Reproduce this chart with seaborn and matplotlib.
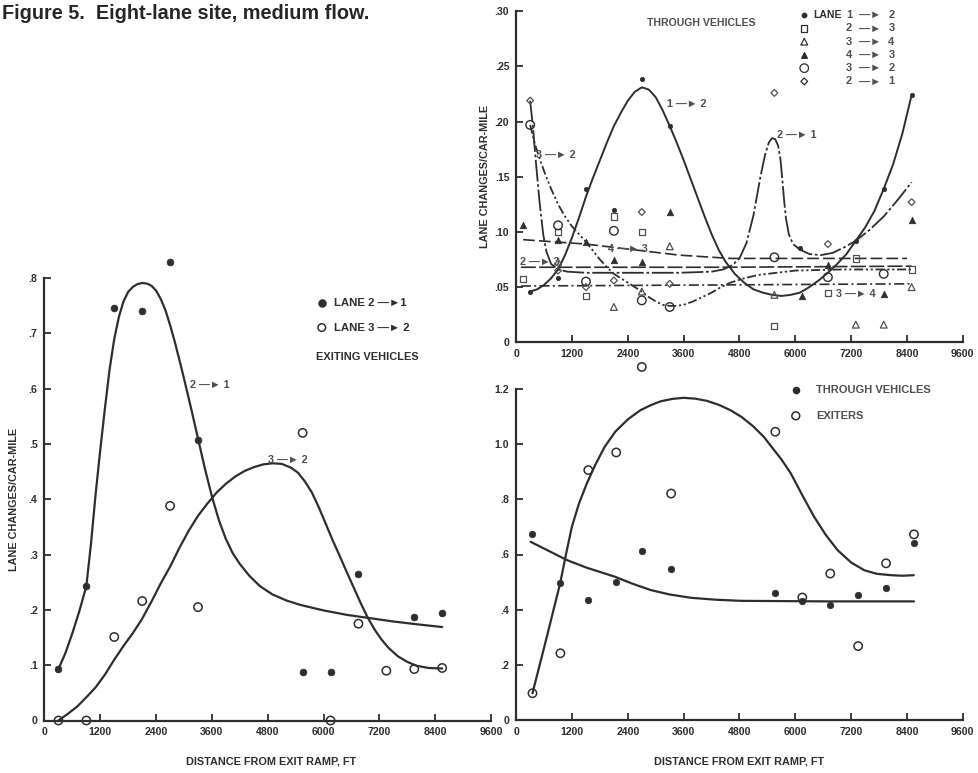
import matplotlib
matplotlib.use("Agg")
import matplotlib.pyplot as plt
import seaborn as sns

# ---------------- data ----------------
# Left panel: exiting vehicles
EX_X_21 = [300, 900, 1500, 2100, 2700, 3300, 5550, 6150, 6750, 7950, 8550]
EX_Y_21 = [0.093, 0.243, 0.746, 0.741, 0.829, 0.508, 0.087, 0.087, 0.265, 0.187, 0.195]
EX_X_32 = [300, 900, 1500, 2100, 2700, 3300, 5550, 6150, 6750, 7350, 7950, 8550]
EX_Y_32 = [0.0, 0.0, 0.151, 0.216, 0.388, 0.205, 0.520, 0.0, 0.175, 0.090, 0.093, 0.095]
EX_FIT21_X = [300, 450, 600, 750, 900, 1000, 1100, 1200, 1300, 1400, 1500, 1600, 1700, 1800,
              1900, 2000, 2100, 2200, 2300, 2400, 2500, 2600, 2700, 2800, 2900, 3000, 3150, 3300,
              3450, 3600, 3750, 3900, 4050, 4200, 4400, 4630, 4900, 5200, 5500, 6000, 6500, 7000,
              7500, 8000, 8550]
EX_FIT21_Y = [0.093, 0.122, 0.158, 0.198, 0.243, 0.320, 0.410, 0.490, 0.565, 0.635, 0.690, 0.730,
              0.758, 0.775, 0.784, 0.789, 0.791, 0.790, 0.786, 0.777, 0.762, 0.742, 0.715, 0.685,
              0.652, 0.618, 0.565, 0.510, 0.455, 0.405, 0.362, 0.328, 0.302, 0.283, 0.262, 0.243,
              0.228, 0.217, 0.209, 0.199, 0.191, 0.185, 0.179, 0.174, 0.169]
EX_FIT32_X = [300, 500, 700, 900, 1100, 1300, 1500, 1700, 1900, 2100, 2300, 2500, 2700, 2900,
              3100, 3300, 3500, 3700, 3900, 4100, 4300, 4500, 4700, 4900, 5100, 5300, 5450, 5600,
              5750, 5900, 6050, 6200, 6350, 6500, 6650, 6800, 6950, 7100, 7250, 7400, 7600, 7800,
              8000, 8250, 8550]
EX_FIT32_Y = [0.0, 0.012, 0.025, 0.042, 0.060, 0.083, 0.110, 0.135, 0.158, 0.184, 0.215, 0.248,
              0.278, 0.312, 0.343, 0.370, 0.392, 0.412, 0.428, 0.441, 0.451, 0.458, 0.463, 0.465,
              0.464, 0.457, 0.448, 0.432, 0.412, 0.385, 0.355, 0.325, 0.297, 0.268, 0.240, 0.212,
              0.186, 0.164, 0.146, 0.131, 0.116, 0.106, 0.099, 0.095, 0.094]

# Top-right panel: through vehicles, by lane change
TR_X_12 = [300, 900, 1500, 2100, 2700, 3300, 6100, 7300, 7900, 8500]
TR_Y_12 = [0.046, 0.058, 0.139, 0.120, 0.239, 0.196, 0.085, 0.092, 0.139, 0.224]
TR_X_23 = [150, 900, 1500, 2100, 2700, 5550, 6700, 7300, 8500]
TR_Y_23 = [0.057, 0.100, 0.042, 0.114, 0.100, 0.015, 0.045, 0.076, 0.066]
TR_X_34 = [900, 2100, 2700, 3300, 5550, 7300, 7900, 8500]
TR_Y_34 = [0.073, 0.032, 0.046, 0.087, 0.043, 0.016, 0.016, 0.050]
TR_X_43 = [150, 900, 1500, 2100, 2700, 3300, 6150, 6700, 7900, 8500]
TR_Y_43 = [0.106, 0.093, 0.091, 0.0745, 0.073, 0.118, 0.042, 0.070, 0.044, 0.111]
TR_X_32 = [300, 900, 1500, 2100, 2700, 3300, 5550, 6700, 7900]
TR_Y_32 = [0.197, 0.106, 0.055, 0.101, 0.038, 0.032, 0.077, 0.059, 0.062]
TR_X_21 = [300, 900, 1500, 2100, 2700, 3300, 5550, 6700, 8500]
TR_Y_21 = [0.219, 0.065, 0.050, 0.056, 0.118, 0.053, 0.226, 0.089, 0.127]

TR_FIT12_X = [300, 450, 600, 750, 900, 1050, 1200, 1350, 1500, 1650, 1800, 1950, 2100, 2250,
              2400, 2550, 2700, 2850, 3000, 3150, 3300, 3450, 3600, 3750, 3900, 4050, 4200, 4350,
              4500, 4700, 4900, 5100, 5300, 5500, 5700, 5900, 6100, 6300, 6500, 6700, 6900, 7100,
              7300, 7500, 7700, 7900, 8100, 8300, 8500]
TR_FIT12_Y = [0.046, 0.048, 0.052, 0.058, 0.066, 0.079, 0.095, 0.113, 0.132, 0.149, 0.165, 0.181,
              0.196, 0.208, 0.219, 0.227, 0.231, 0.229, 0.222, 0.210, 0.196, 0.181, 0.165, 0.148,
              0.131, 0.114, 0.098, 0.084, 0.073, 0.062, 0.054, 0.048, 0.045, 0.043, 0.042, 0.043,
              0.045, 0.050, 0.056, 0.063, 0.071, 0.080, 0.092, 0.104, 0.119, 0.139, 0.161, 0.189,
              0.224]
TR_FIT21_X = [300, 360, 420, 500, 580, 650, 750, 900, 1100, 1500, 2500, 3500, 4200, 4450, 4650,
              4800, 4950, 5100, 5250, 5350, 5430, 5500, 5570, 5630, 5680, 5720, 5760, 5800, 5860,
              5950, 6100, 6300, 6550, 6800, 7050, 7300, 7600, 7900, 8200, 8500]
TR_FIT21_Y = [0.219, 0.195, 0.165, 0.128, 0.098, 0.082, 0.071, 0.066, 0.064, 0.063, 0.063, 0.063,
              0.064, 0.066, 0.070, 0.076, 0.090, 0.115, 0.150, 0.170, 0.181, 0.185, 0.184, 0.178,
              0.166, 0.148, 0.128, 0.112, 0.098, 0.089, 0.084, 0.080, 0.079, 0.081, 0.086, 0.092,
              0.102, 0.114, 0.129, 0.145]
TR_FIT32_X = [300, 400, 500, 600, 750, 900, 1050, 1200, 1350, 1500, 1650, 1800, 1950, 2100, 2250,
              2400, 2550, 2700, 2850, 3000, 3150, 3300, 3450, 3600, 3800, 4000, 4200, 4400, 4600,
              4900, 5200, 5600, 6000, 7000, 8000, 8500]
TR_FIT32_Y = [0.197, 0.180, 0.167, 0.155, 0.139, 0.125, 0.114, 0.105, 0.098, 0.091, 0.083, 0.075,
              0.068, 0.062, 0.058, 0.054, 0.050, 0.046, 0.041, 0.037, 0.034, 0.033, 0.033, 0.034,
              0.037, 0.041, 0.045, 0.050, 0.054, 0.058, 0.061, 0.063, 0.065, 0.066, 0.066, 0.066]
TR_FIT43_X = [150, 1500, 2500, 3500, 4600, 6000, 8400]
TR_FIT43_Y = [0.093, 0.089, 0.084, 0.079, 0.076, 0.076, 0.076]
TR_FIT23_X = [100, 4500, 8500]
TR_FIT23_Y = [0.068, 0.068, 0.069]
TR_FIT34_X = [100, 4500, 8500]
TR_FIT34_Y = [0.051, 0.052, 0.053]

# Bottom-right panel: through vehicles vs exiters
BR_X = [350, 950, 1550, 2150, 2700, 3330, 5570, 6150, 6750, 7350, 7950, 8550]
BR_Y_THRU = [0.676, 0.495, 0.435, 0.499, 0.613, 0.546, 0.459, 0.432, 0.417, 0.453, 0.477, 0.640]
BR_Y_EXIT = [0.097, 0.242, 0.906, 0.970, 1.280, 0.821, 1.045, 0.444, 0.531, 0.268, 0.568, 0.673]
BR_FIT_EXIT_X = [350, 650, 944, 1070, 1196, 1350, 1519, 1700, 1900, 2129, 2400, 2668, 2900, 3100,
                 3350, 3601, 3850, 4100, 4350, 4608, 4850, 5100, 5325, 5500, 5700, 5900, 6150,
                 6403, 6650, 6907, 7200, 7481, 7750, 8056, 8300, 8545]
BR_FIT_EXIT_Y = [0.097, 0.296, 0.495, 0.600, 0.700, 0.785, 0.858, 0.925, 0.990, 1.045, 1.090,
                 1.123, 1.142, 1.155, 1.164, 1.168, 1.165, 1.157, 1.143, 1.123, 1.098, 1.064,
                 1.026, 0.988, 0.945, 0.895, 0.815, 0.737, 0.672, 0.616, 0.571, 0.543, 0.530,
                 0.525, 0.523, 0.525]
BR_FIT_THRU_X = [310, 700, 1088, 1500, 2129, 2500, 2894, 3300, 3759, 4300, 4836, 6700, 8550]
BR_FIT_THRU_Y = [0.646, 0.613, 0.580, 0.553, 0.519, 0.494, 0.471, 0.455, 0.443, 0.436, 0.432,
                 0.430, 0.430]

X_TICKS = [0, 1200, 2400, 3600, 4800, 6000, 7200, 8400, 9600]
L_YTICKS = [0, 0.1, 0.2, 0.3, 0.4, 0.5, 0.6, 0.7, 0.8]
L_YLABELS = ["0", ".1", ".2", ".3", ".4", ".5", ".6", ".7", ".8"]
T_YTICKS = [0, 0.05, 0.10, 0.15, 0.20, 0.25, 0.30]
T_YLABELS = ["0", ".05", ".10", ".15", ".20", ".25", ".30"]
B_YTICKS = [0, 0.2, 0.4, 0.6, 0.8, 1.0, 1.2]
B_YLABELS = ["0", ".2", ".4", ".6", ".8", "1.0", "1.2"]

TITLE = "Figure 5.  Eight-lane site, medium flow."
YLAB = "LANE CHANGES/CAR-MILE"
XLAB = "DISTANCE FROM EXIT RAMP, FT"
ARROW = "\u2014\u25BA"

# ---------------- style ----------------
sns.set_style("ticks")
plt.rcParams["font.family"] = ["Liberation Sans", "DejaVu Sans"]
INK = "#2e2e2e"
GREY = "#505050"

W, H = 979, 773
fig = plt.figure(figsize=(W / 100, H / 100), dpi=100)
fig.patch.set_facecolor("white")


def px_axes(left, top, right, bottom):
    return fig.add_axes([left / W, 1 - bottom / H, (right - left) / W, (bottom - top) / H])


def style(ax, ymax, yticks, ylabels):
    ax.set_xlim(0, 9600)
    ax.set_ylim(0, ymax)
    sns.despine(ax=ax)
    for s in ("left", "bottom"):
        ax.spines[s].set_linewidth(1.6)
        ax.spines[s].set_color(INK)
    ax.set_xticks(X_TICKS)
    ax.set_xticklabels([str(t) for t in X_TICKS])
    ax.set_yticks(yticks)
    ax.set_yticklabels(ylabels)
    ax.tick_params(direction="in", length=5, width=1.3, colors=INK, labelsize=7.6, pad=5)
    for lab in ax.get_xticklabels() + ax.get_yticklabels():
        lab.set_fontweight("bold")
    ax.set_facecolor("none")


def curve(ax, x, y, ls="-", lw=1.5):
    sns.lineplot(x=x, y=y, ax=ax, sort=False, estimator=None, color=INK, lw=lw,
                 linestyle=ls, zorder=2)


def pts(ax, x, y, marker, s, filled, lw=1.0, color=INK):
    if filled:
        sns.scatterplot(x=x, y=y, ax=ax, marker=marker, s=s, color=color, edgecolor=color,
                        linewidth=0.5, zorder=3, clip_on=False)
    else:
        sns.scatterplot(x=x, y=y, ax=ax, marker=marker, s=s, facecolors="none",
                        edgecolor=color, linewidth=lw, zorder=3, clip_on=False)


def lab(ax, x, y, a, b, size=7.8, weight="bold", color=GREY):
    ax.text(x, y, f"{a} {ARROW} {b}", fontsize=size, fontweight=weight, color=color,
            va="center", ha="left")


# ---------------- left panel ----------------
axL = px_axes(44.5, 278.0, 491.0, 720.5)
style(axL, 0.8, L_YTICKS, L_YLABELS)
curve(axL, EX_FIT21_X, EX_FIT21_Y, lw=1.6)
curve(axL, EX_FIT32_X, EX_FIT32_Y, lw=1.6)
pts(axL, EX_X_21, EX_Y_21, "o", 24, True)
pts(axL, EX_X_32, EX_Y_32, "o", 36, False, lw=1.1)
lab(axL, 3130, 0.607, "2", "1")
lab(axL, 4800, 0.471, "3", "2")
axL.scatter([0.621], [0.944], s=26, marker="o", color=INK, transform=axL.transAxes, clip_on=False)
axL.scatter([0.621], [0.888], s=30, marker="o", facecolors="none", edgecolors=INK, linewidths=1.1,
            transform=axL.transAxes, clip_on=False)
axL.text(0.648, 0.944, f"LANE 2 {ARROW}1", transform=axL.transAxes, fontsize=8.2, fontweight="bold",
         color=INK, va="center")
axL.text(0.648, 0.888, f"LANE 3 {ARROW} 2", transform=axL.transAxes, fontsize=8.2,
         fontweight="bold", color=INK, va="center")
axL.text(0.609, 0.822, "EXITING VEHICLES", transform=axL.transAxes, fontsize=7.9,
         fontweight="bold", color=INK, va="center")
axL.set_ylabel(YLAB, fontsize=7.8, fontweight="bold", color=INK)
axL.yaxis.set_label_coords(-0.058, 0.5)
axL.set_xlabel(XLAB, fontsize=7.8, fontweight="bold", color=INK)
axL.xaxis.set_label_coords(0.507, -0.081)

# ---------------- top-right panel ----------------
axT = px_axes(516.2, 11.2, 962.8, 342.3)
style(axT, 0.30, T_YTICKS, T_YLABELS)
curve(axT, TR_FIT12_X, TR_FIT12_Y, lw=1.4)
curve(axT, TR_FIT21_X, TR_FIT21_Y, ls=(0, (12, 1.5, 1.5, 1.5)), lw=1.3)
curve(axT, TR_FIT32_X, TR_FIT32_Y, ls=(0, (5, 1.5, 1.2, 1.5, 1.2, 1.5)), lw=1.3)
curve(axT, TR_FIT43_X, TR_FIT43_Y, ls=(0, (7, 2.5)), lw=1.2)
curve(axT, TR_FIT23_X, TR_FIT23_Y, ls=(0, (9, 2)), lw=1.2)
curve(axT, TR_FIT34_X, TR_FIT34_Y, ls=(0, (6, 2, 1.2, 2)), lw=1.2)
pts(axT, TR_X_12, TR_Y_12, "o", 10, True)
pts(axT, TR_X_23, TR_Y_23, "s", 20, False, lw=0.9, color=GREY)
pts(axT, TR_X_34, TR_Y_34, "^", 24, False, lw=0.9, color=GREY)
pts(axT, TR_X_43, TR_Y_43, "^", 22, True)
pts(axT, TR_X_32, TR_Y_32, "o", 38, False, lw=1.0)
pts(axT, TR_X_21, TR_Y_21, "D", 12, False, lw=0.9, color=GREY)
lab(axT, 3240, 0.216, "1", "2")
lab(axT, 5610, 0.188, "2", "1")
lab(axT, 420, 0.170, "3", "2")
lab(axT, 1980, 0.085, "4", "3")
lab(axT, 80, 0.073, "2", "3")
lab(axT, 6880, 0.044, "3", "4")
axT.text(0.292, 0.964, "THROUGH VEHICLES", transform=axT.transAxes, fontsize=7.6,
         fontweight="bold", color=GREY, va="center")
LEG_ROWS = [("o", True, 10, "1", "2"), ("s", False, 20, "2", "3"), ("^", False, 24, "3", "4"),
            ("^", True, 16, "4", "3"), ("o", False, 38, "3", "2"), ("D", False, 12, "2", "1")]
for i, (mk, fill, sz, a, b) in enumerate(LEG_ROWS):
    yy = 0.988 - i * 0.040
    if fill:
        axT.scatter([0.645], [yy], s=sz, marker=mk, color=INK, transform=axT.transAxes, clip_on=False)
    else:
        axT.scatter([0.645], [yy], s=sz, marker=mk, facecolors="none", edgecolors=INK,
                    linewidths=0.9, transform=axT.transAxes, clip_on=False)
    if i == 0:
        axT.text(0.665, yy, "LANE", transform=axT.transAxes, fontsize=7.5, fontweight="bold",
                 color=INK, va="center")
    axT.text(0.745, yy, a, transform=axT.transAxes, fontsize=8, fontweight="bold", color=GREY,
             va="center", ha="center")
    axT.text(0.793, yy, ARROW, transform=axT.transAxes, fontsize=8, fontweight="bold", color=GREY,
             va="center", ha="center")
    axT.text(0.840, yy, b, transform=axT.transAxes, fontsize=8, fontweight="bold", color=GREY,
             va="center", ha="center")
axT.set_ylabel(YLAB, fontsize=7.8, fontweight="bold", color=INK)
axT.yaxis.set_label_coords(-0.058, 0.5)
axT.set_xlabel("")

# ---------------- bottom-right panel ----------------
axB = px_axes(516.2, 389.0, 962.8, 720.0)
style(axB, 1.2, B_YTICKS, B_YLABELS)
curve(axB, BR_FIT_EXIT_X, BR_FIT_EXIT_Y, lw=1.6)
curve(axB, BR_FIT_THRU_X, BR_FIT_THRU_Y, lw=1.6)
pts(axB, BR_X, BR_Y_THRU, "o", 22, True)
pts(axB, BR_X, BR_Y_EXIT, "o", 36, False, lw=1.1)
axB.scatter([0.626], [0.997], s=20, marker="o", color=INK, transform=axB.transAxes, clip_on=False)
axB.scatter([0.626], [0.919], s=32, marker="o", facecolors="none", edgecolors=INK, linewidths=1.1,
            transform=axB.transAxes, clip_on=False)
axB.text(0.671, 0.997, "THROUGH VEHICLES", transform=axB.transAxes, fontsize=8, fontweight="bold",
         color=GREY, va="center")
axB.text(0.671, 0.919, "EXITERS", transform=axB.transAxes, fontsize=8, fontweight="bold",
         color=GREY, va="center")
axB.set_ylabel("")
axB.set_xlabel(XLAB, fontsize=7.8, fontweight="bold", color=INK)
axB.xaxis.set_label_coords(0.499, -0.11)

fig.text(0.002, 0.995, TITLE, fontsize=14.3, fontweight="bold", color="#262626", va="top", ha="left")

fig.savefig("out.png", dpi=100, facecolor="white")
